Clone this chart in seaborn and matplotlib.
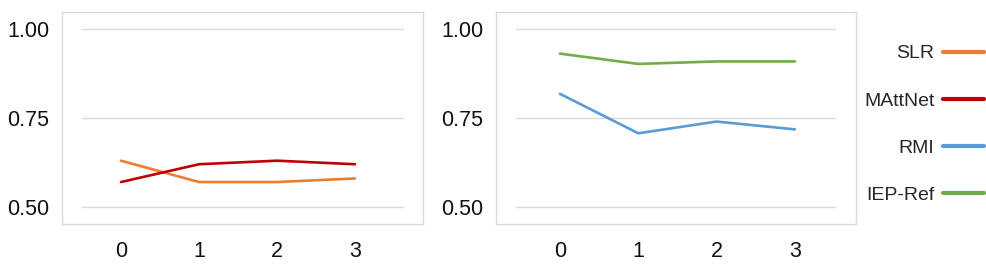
import pandas as pd
import matplotlib.pyplot as plt
import seaborn as sns
from matplotlib.lines import Line2D

# data
steps = [0, 1, 2, 3]
slr = [0.63, 0.57, 0.57, 0.58]
mattnet = [0.57, 0.62, 0.63, 0.62]
rmi = [0.818, 0.707, 0.740, 0.718]
iep_ref = [0.931, 0.902, 0.909, 0.909]
yticks = [0.50, 0.75, 1.00]

colors = {"SLR": "#ED7D31", "MAttNet": "#C00000", "RMI": "#5B9BD5", "IEP-Ref": "#70AD47"}

left_df = pd.DataFrame({"step": steps * 2,
                        "score": slr + mattnet,
                        "model": ["SLR"] * 4 + ["MAttNet"] * 4})
right_df = pd.DataFrame({"step": steps * 2,
                         "score": rmi + iep_ref,
                         "model": ["RMI"] * 4 + ["IEP-Ref"] * 4})

sns.set_style("white")
plt.rcParams["font.family"] = ["Liberation Sans", "DejaVu Sans"]

fig = plt.figure(figsize=(9.86, 2.64), dpi=100)
ax1 = fig.add_axes([62 / 986, 1 - 224 / 264, 361 / 986, 212 / 264])
ax2 = fig.add_axes([496 / 986, 1 - 224 / 264, 360 / 986, 212 / 264])

panels = [
    (ax1, left_df, (-0.756, 3.872), (0.055, 0.945)),
    (ax2, right_df, (-0.817, 3.78), (0.056, 0.942)),
]

for ax, df, xlim, gx in panels:
    for y in yticks:
        ax.axhline(y, xmin=gx[0], xmax=gx[1], color="#d9d9d9", lw=1.0, zorder=0)
    sns.lineplot(data=df, x="step", y="score", hue="model", palette=colors,
                 linewidth=1.9, ax=ax, legend=False)
    ax.set_xlim(*xlim)
    ax.set_ylim(0.452, 1.048)
    ax.set_xticks(steps)
    ax.set_yticks(yticks)
    ax.set_yticklabels([f"{v:.2f}" for v in yticks])
    ax.set_xlabel("")
    ax.set_ylabel("")
    ax.tick_params(axis="both", length=0, labelsize=15.5, colors="#111111")
    ax.tick_params(axis="x", pad=12)
    ax.tick_params(axis="y", pad=9)
    for sp in ax.spines.values():
        sp.set_visible(True)
        sp.set_color("#d9d9d9")
        sp.set_linewidth(1.0)

handles = [Line2D([], [], color=c, lw=3, solid_capstyle="round") for c in colors.values()]
fig.legend(handles, list(colors.keys()), loc="upper right",
           bbox_to_anchor=(984 / 986, 0.83), frameon=False, markerfirst=False,
           fontsize=14, labelspacing=1.52, handlelength=2.1, handletextpad=0.45,
           borderpad=0, borderaxespad=0)

plt.savefig("out.png", dpi=100)
